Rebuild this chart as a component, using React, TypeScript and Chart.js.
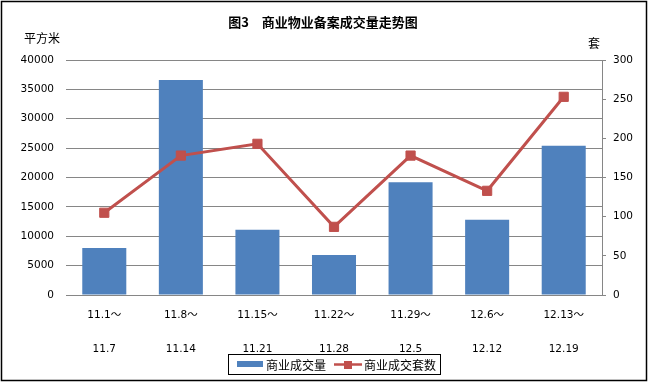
import React, { useEffect, useRef } from "react";
import { Chart, registerables } from "chart.js";

Chart.register(...registerables);

const categories: string[][] = [
  ["11.1～", "11.7"],
  ["11.8～", "11.14"],
  ["11.15～", "11.21"],
  ["11.22～", "11.28"],
  ["11.29～", "12.5"],
  ["12.6～", "12.12"],
  ["12.13～", "12.19"],
];
const areaValues: number[] = [8000, 36600, 11100, 6800, 19200, 12800, 25400];
const unitValues: number[] = [105, 178, 193, 87, 178, 133, 253];
const areaLabel = "商业成交量";
const unitLabel = "商业成交套数";
const titleText = "图3　商业物业备案成交量走势图";
const leftAxisTitle = "平方米";
const rightAxisTitle = "套";

const BLUE = "#4F81BD";
const RED = "#C0504D";
const GRID = "#868686";
const NUM_FONT = "'DejaVu Sans', 'Noto Sans CJK SC', sans-serif";
const CJK_FONT = "'Noto Sans CJK SC', 'DejaVu Sans', sans-serif";

const decorPlugin = {
  id: "decor",
  afterDraw(chart: any) {
    const ctx = chart.ctx as CanvasRenderingContext2D;
    ctx.save();
    // outer border
    ctx.strokeStyle = "#000";
    ctx.lineWidth = 1.5;
    ctx.strokeRect(1.5, 1.5, 645, 379);
    // title
    ctx.fillStyle = "#000";
    ctx.textBaseline = "middle";
    ctx.textAlign = "center";
    ctx.font = `bold 13px ${CJK_FONT}`;
    ctx.fillText(titleText, 323, 22);
    // axis titles
    ctx.font = `12px ${CJK_FONT}`;
    ctx.fillText(leftAxisTitle, 42, 38);
    ctx.fillText(rightAxisTitle, 594, 43);
    // legend
    ctx.lineWidth = 1;
    ctx.strokeStyle = "#000";
    ctx.strokeRect(228.5, 354.5, 212, 20);
    ctx.fillStyle = BLUE;
    ctx.fillRect(237, 361, 26, 6);
    ctx.strokeStyle = RED;
    ctx.lineWidth = 2.5;
    ctx.beginPath();
    ctx.moveTo(334, 364.5);
    ctx.lineTo(362, 364.5);
    ctx.stroke();
    ctx.fillStyle = RED;
    ctx.fillRect(344, 361, 8, 8);
    ctx.fillStyle = "#000";
    ctx.textAlign = "left";
    ctx.font = `12px ${CJK_FONT}`;
    ctx.fillText(areaLabel, 266, 365);
    ctx.fillText(unitLabel, 364, 365);
    ctx.restore();
  },
};

const plainTick = (v: any) => String(v);

export default function App() {
  const canvasRef = useRef<HTMLCanvasElement | null>(null);

  useEffect(() => {
    if (!canvasRef.current) return;
    const chart = new Chart(canvasRef.current, {
      type: "bar",
      data: {
        labels: categories,
        datasets: [
          {
            type: "line",
            label: unitLabel,
            data: unitValues,
            yAxisID: "y1",
            borderColor: RED,
            backgroundColor: RED,
            borderWidth: 3,
            pointStyle: "rect",
            pointRadius: 6.5,
            pointBorderWidth: 1,
            pointBackgroundColor: RED,
            pointBorderColor: RED,
            tension: 0,
            order: 0,
          } as any,
          {
            type: "bar",
            label: areaLabel,
            data: areaValues,
            yAxisID: "y",
            backgroundColor: BLUE,
            borderWidth: 0,
            categoryPercentage: 1,
            barPercentage: 0.575,
            order: 1,
          } as any,
        ],
      },
      options: {
        responsive: false,
        animation: false,
        layout: { padding: { top: 60, left: 0, right: 0, bottom: 0 } },
        plugins: {
          legend: { display: false },
          title: { display: false },
          tooltip: { enabled: false },
        },
        scales: {
          x: {
            grid: { display: false, drawTicks: false },
            border: { display: true, color: GRID },
            ticks: {
              color: "#000",
              font: { family: NUM_FONT, size: 10.5, lineHeight: "34px" as any },
              padding: 3.5,
              maxRotation: 0,
              autoSkip: false,
            },
            afterFit: (s: any) => {
              s.height = 88;
            },
          },
          y: {
            position: "left",
            min: 0,
            max: 40000,
            grid: { color: GRID, drawTicks: false, lineWidth: 1 },
            border: { display: false },
            ticks: {
              stepSize: 5000,
              color: "#000",
              font: { family: NUM_FONT, size: 10.5 },
              padding: 12,
              callback: plainTick,
            },
            afterFit: (s: any) => {
              s.width = 66;
            },
          },
          y1: {
            position: "right",
            min: 0,
            max: 300,
            grid: {
              drawOnChartArea: false,
              drawTicks: true,
              tickLength: 4,
              color: GRID,
            },
            border: { display: true, color: GRID },
            ticks: {
              stepSize: 50,
              color: "#000",
              font: { family: NUM_FONT, size: 10.5 },
              padding: 7,
              callback: plainTick,
            },
            afterFit: (s: any) => {
              s.width = 47;
            },
          },
        },
      },
      plugins: [decorPlugin],
    });
    return () => chart.destroy();
  }, []);

  return (
    <div style={{ position: "absolute", left: 0, top: 0, width: 649, height: 383, background: "#fff" }}>
      <canvas ref={canvasRef} width={649} height={383} style={{ width: 649, height: 383, display: "block" }} />
    </div>
  );
}
